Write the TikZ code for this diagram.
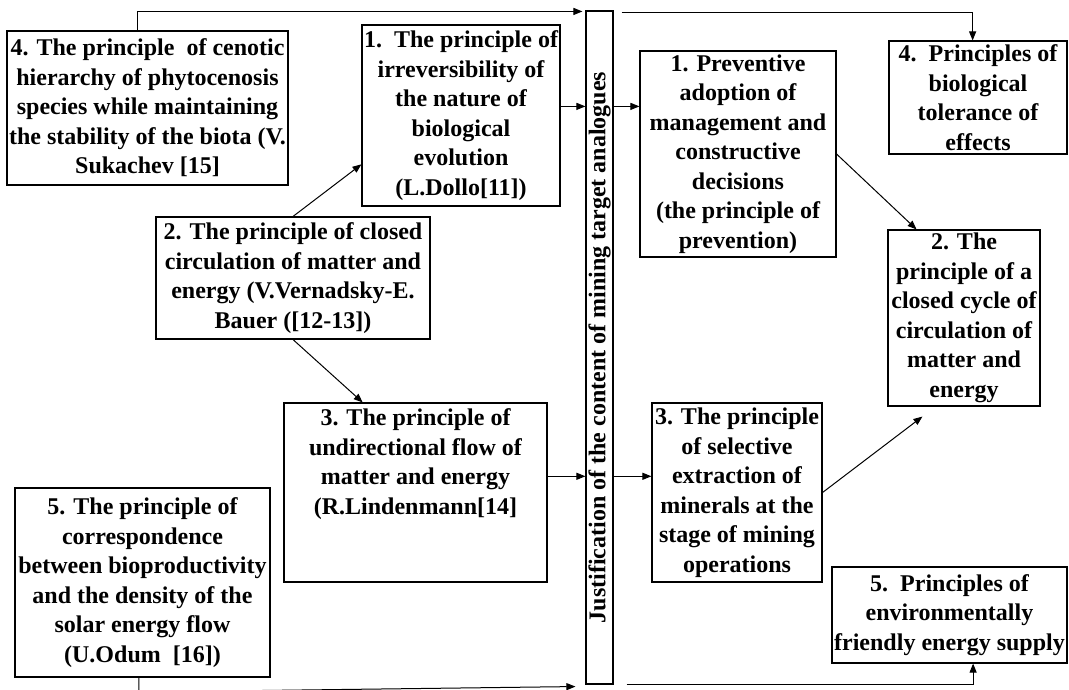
\documentclass[tikz,border=0pt]{standalone}
\usepackage{fontspec}
\setmainfont{Liberation Serif}
\usetikzlibrary{arrows.meta,calc}
\begin{document}
\begin{tikzpicture}[x=1pt,y=-1pt,
  box/.style={draw=black,line width=1.1pt,inner sep=0pt},
  txt/.style={align=center,inner sep=0pt,font=\fontsize{24}{29.5}\selectfont\bfseries},
  arr/.style={draw=black,line width=1pt,-{Triangle[length=9pt,width=7pt]}},
  ln/.style={draw=black,line width=1pt}]
\fill[white] (0,0) rectangle (1069,690);
\useasboundingbox (0,0) rectangle (1069,690);

% boxes
\node[box,minimum width=281pt,minimum height=154pt] (b4l) at (147.5,108) {};
\node[box,minimum width=198pt,minimum height=181pt] (b1) at (461,115.5) {};
\node[box,minimum width=274pt,minimum height=122pt] (b2) at (293,278) {};
\node[box,minimum width=263pt,minimum height=179pt] (b3) at (415.5,492.5) {};
\node[box,minimum width=255pt,minimum height=189pt] (b5) at (142.5,582.5) {};
\node[box,minimum width=27pt,minimum height=673pt] (bar) at (599.5,347.5) {};
\node[box,minimum width=196pt,minimum height=206pt] (p1) at (738,154) {};
\node[box,minimum width=170pt,minimum height=179pt] (p3) at (737,492.5) {};
\node[box,minimum width=178pt,minimum height=113pt] (p4) at (978,97.5) {};
\node[box,minimum width=152pt,minimum height=176pt] (p2) at (964,318) {};
\node[box,minimum width=235pt,minimum height=96pt] (p5) at (949.5,615) {};

% texts
\node[txt] (t4l) at (b4l) {4. The principle\ \ of cenotic\\hierarchy of phytocenosis\\species while maintaining\\the stability of the biota (V.\\Sukachev [15]};
\node[txt] (t1) at (b1) {1.\ \ The principle of\\irreversibility of\\the nature of\\biological\\evolution\\(L.Dollo[11])};
\node[txt] (t2) at (b2) {2. The principle of closed\\circulation of matter and\\energy (V.Vernadsky-E.\\Bauer ([12-13])};
\node[txt,anchor=north] (t3) at ($(b3.north)+(0,6)$) {3. The principle of\\undirectional flow of\\matter and energy\\(R.Lindenmann[14]};
\node[txt] (t5) at (b5) {5. The principle of\\correspondence\\between bioproductivity\\and the density of the\\solar energy flow\\(U.Odum\ \ [16])};
\node[txt,rotate=90] (tbar) at (bar) {Justification of the content of mining target analogues};
\node[txt] (tp1) at (p1) {1. Preventive\\adoption of\\management and\\constructive\\decisions\\(the principle of\\prevention)};
\node[txt] (tp3) at (p3) {3. The principle\\of selective\\extraction of\\minerals at the\\stage of mining\\operations};
\node[txt] (tp4) at (p4) {4.\ \ Principles of\\biological\\tolerance of\\effects};
\node[txt] (tp2) at (p2) {2. The\\principle of a\\closed cycle of\\circulation of\\matter and\\energy};
\node[txt] (tp5) at (p5) {5.\ \ Principles of\\environmentally\\friendly energy supply};

% helper coordinates
\coordinate (e1) at ($(b1.north east)!0.45!(b1.south east)$);
\coordinate (e3) at ($(b3.north east)!0.41!(b3.south east)$);
\coordinate (c21) at ($(b1.north west)!0.768!(b1.south west)$);
\coordinate (c23) at ($(b3.north west)!0.3!(b3.north east)$);
\coordinate (c12) at ($(p2.north west)!0.19!(p2.north east)$);
\coordinate (c32) at ($(p2.south west)+(35,10)$);
\coordinate (tlx) at ($(b4l.north west)!0.466!(b4l.north east)$);
\coordinate (tlend) at ($(bar.north west)+(-3,1)$);
\coordinate (trs) at ($(bar.north east)+(8,2)$);
\coordinate (p4top) at ($(p4.north west)!0.47!(p4.north east)$);
\coordinate (blx) at ($(b5.south west)!0.486!(b5.south east)$);
\coordinate (blturn) at ($(blx)+(0,14.5)$);
\coordinate (blend) at ($(bar.south west)+(-10,2)$);
\coordinate (brs) at ($(bar.south east)+(13,0)$);
\coordinate (p5bot) at ($(p5.south west)!0.6!(p5.south east)$);

% connectors
\draw[arr] (b2.north) -- (c21);
\draw[arr] (b2.south) -- (c23);
\draw[arr] (e1) -- (e1 -| bar.west);
\draw[arr] (e1 -| bar.east) -- (e1 -| p1.west);
\draw[arr] (p1.east) -- (c12);
\draw[arr] (e3) -- (e3 -| bar.west);
\draw[arr] (e3 -| bar.east) -- (e3 -| p3.west);
\draw[arr] (p3.east) -- (c32);
\draw[arr] (tlx) |- (tlend);
\draw[arr] (trs) -| (p4top);
\draw[arr] (brs) -| (p5bot);
\begin{scope}
\clip (0,0) rectangle (1069,690);
\draw[arr] (blx) -- (blturn) -- (blend);
\end{scope}
\end{tikzpicture}
\end{document}
